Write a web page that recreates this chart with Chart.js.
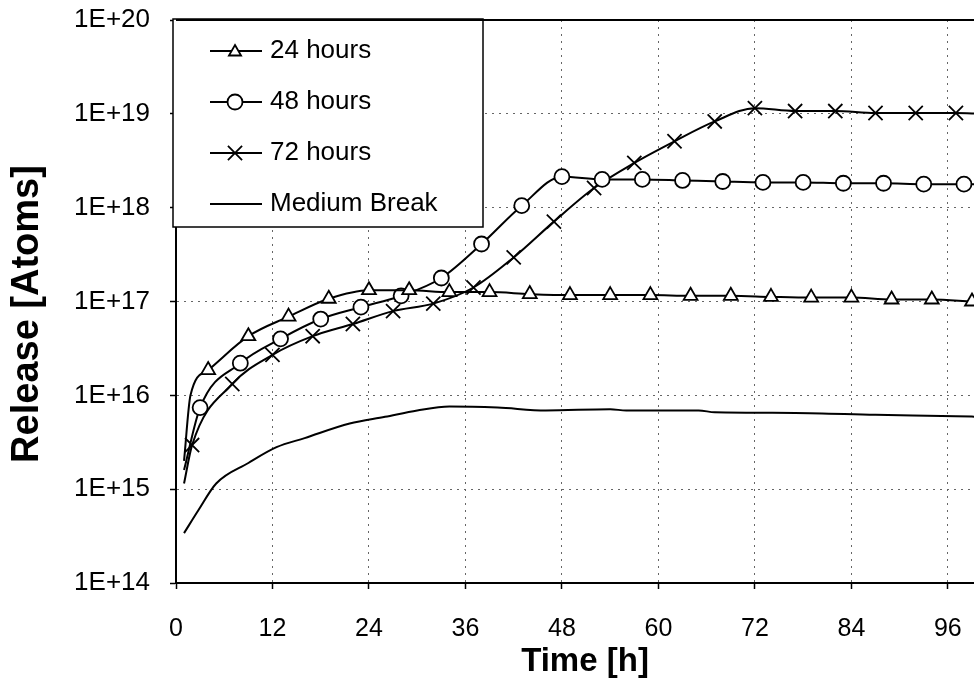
<!DOCTYPE html>
<html>
<head>
<meta charset="utf-8">
<script src="https://cdn.jsdelivr.net/npm/chart.js@4.4.1/dist/chart.umd.min.js"></script>
<style>
  html, body { margin: 0; padding: 0; background: #fff; }
  #wrap { width: 974px; height: 698px; }
</style>
</head>
<body>
<div id="wrap"><canvas id="releaseChart" width="974" height="698"></canvas></div>
<script>
// Release vs time (log y axis)

// x tick labels (hours) and y decades
const xTicks = [0, 12, 24, 36, 48, 60, 72, 84, 96];
const yDecades = [1e14, 1e15, 1e16, 1e17, 1e18, 1e19, 1e20];

// 24 hours (triangles)
const hours24 = [1, 1.8, 4, 9, 14, 19, 24, 29, 34, 39, 44, 49, 54, 59, 64, 69, 74, 79, 84, 89, 94, 99];
const release24 = [2.0e15, 1.0e16, 1.86e16, 4.27e16, 6.9e16, 1.07e17, 1.32e17, 1.32e17, 1.26e17, 1.26e17,
  1.2e17, 1.17e17, 1.17e17, 1.17e17, 1.15e17, 1.15e17, 1.12e17, 1.1e17, 1.1e17, 1.05e17, 1.05e17, 1.0e17];

// 48 hours (circles)
const hours48 = [1, 3, 8, 13, 18, 23, 28, 33, 38, 43, 48, 53, 58, 63, 68, 73, 78, 83, 88, 93, 98, 100];
const release48 = [1.6e15, 7.4e15, 2.2e16, 4.0e16, 6.5e16, 8.7e16, 1.15e17, 1.78e17, 4.1e17, 1.05e18,
  2.14e18, 2.0e18, 2.0e18, 1.95e18, 1.9e18, 1.86e18, 1.86e18, 1.82e18, 1.82e18, 1.78e18, 1.78e18, 1.78e18];

// 72 hours (crosses)
const hours72 = [1, 2, 7, 12, 17, 22, 27, 32, 37, 42, 47, 52, 57, 62, 67, 72, 77, 82, 87, 92, 97, 100];
const release72 = [1.15e15, 2.95e15, 1.32e16, 2.7e16, 4.27e16, 5.75e16, 7.9e16, 9.5e16, 1.41e17, 2.95e17,
  7.1e17, 1.62e18, 3.0e18, 5.1e18, 8.3e18, 1.15e19, 1.07e19, 1.07e19, 1.02e19, 1.02e19, 1.02e19, 1.0e19];

// Medium break (plain line)
const hoursMedium = [1, 2.8, 5, 9, 12.5, 16, 21.6, 26, 30, 34, 40, 46, 54, 56, 65, 67, 77, 87, 97, 100];
const releaseMedium = [3.4e14, 6.0e14, 1.15e15, 1.9e15, 2.8e15, 3.5e15, 5.0e15, 5.9e15, 6.9e15, 7.6e15,
  7.4e15, 6.9e15, 7.1e15, 6.9e15, 6.9e15, 6.6e15, 6.5e15, 6.2e15, 6.0e15, 5.9e15];

const FONT = '"Liberation Sans", Arial, sans-serif';

function toPoints(xs, ys) {
  return xs.map((x, i) => ({ x: x, y: ys[i] }));
}

const datasets = [
  {
    label: '24 hours',
    data: toPoints(hours24, release24),
    pointStyle: 'triangle',
    pointRadius: ctx => (ctx.dataIndex < 2 ? 0 : 8)
  },
  {
    label: '48 hours',
    data: toPoints(hours48, release48),
    pointStyle: 'circle',
    pointRadius: ctx => (ctx.dataIndex === 0 || ctx.dataIndex === hours48.length - 1 ? 0 : 7.5)
  },
  {
    label: '72 hours',
    data: toPoints(hours72, release72),
    pointStyle: 'crossRot',
    pointRadius: ctx => (ctx.dataIndex === 0 || ctx.dataIndex === hours72.length - 1 ? 0 : 10)
  },
  {
    label: 'Medium Break',
    data: toPoints(hoursMedium, releaseMedium),
    pointStyle: false,
    pointRadius: 0
  }
].map(ds => Object.assign({
  borderColor: '#000',
  borderWidth: 2,
  pointBorderColor: '#000',
  pointBackgroundColor: '#fff',
  pointBorderWidth: 1.8,
  cubicInterpolationMode: 'monotone',
  fill: false
}, ds));

// legend box drawn inside the plot, top left
const legendBox = {
  id: 'legendBox',
  afterDatasetsDraw(chart) {
    const c = chart.ctx;
    const area = chart.chartArea;
    const left = area.left - 3;
    const top = area.top - 1;
    c.save();
    c.fillStyle = '#fff';
    c.strokeStyle = '#000';
    c.lineWidth = 1.5;
    c.fillRect(left, top, 310, 208);
    c.strokeRect(left, top, 310, 208);
    chart.data.datasets.forEach((ds, i) => {
      const y = top + 32 + i * 51;
      c.strokeStyle = '#000';
      c.lineWidth = 1.8;
      c.beginPath();
      c.moveTo(left + 37, y);
      c.lineTo(left + 89, y);
      c.stroke();
      if (ds.pointStyle) {
        c.fillStyle = '#fff';
        const r = ds.pointStyle === 'crossRot' ? 10 : (ds.pointStyle === 'triangle' ? 7 : 7.5);
        Chart.helpers.drawPoint(c, { pointStyle: ds.pointStyle, radius: r, rotation: 0, borderWidth: 1.8 }, left + 62, y + (ds.pointStyle === 'triangle' ? 1 : 0));
      }
      c.fillStyle = '#000';
      c.font = '26px ' + FONT;
      c.textBaseline = 'middle';
      c.textAlign = 'left';
      c.fillText(ds.label, left + 97, y);
    });
    c.restore();
  }
};

// solid frame line on top, plus the two axis titles
const frameAndTitles = {
  id: 'frameAndTitles',
  afterDraw(chart) {
    const c = chart.ctx;
    const area = chart.chartArea;
    c.save();
    c.strokeStyle = '#000';
    c.lineWidth = 2;
    c.beginPath();
    c.moveTo(area.left, area.top);
    c.lineTo(area.right, area.top);
    c.stroke();

    c.fillStyle = '#000';
    c.textAlign = 'center';
    c.textBaseline = 'middle';
    c.font = 'bold 33px ' + FONT;
    c.fillText('Time [h]', 585, 662);

    c.translate(28, 314);
    c.rotate(-Math.PI / 2);
    c.font = 'bold 38px ' + FONT;
    c.fillText('Release [Atoms]', 0, 0);
    c.restore();
  }
};

function noEdgePadding(axis) {
  axis.paddingTop = 0;
  axis.paddingBottom = 0;
  axis.paddingLeft = 0;
  axis.paddingRight = 0;
}

const config = {
  type: 'line',
  data: { datasets: datasets },
  options: {
    responsive: false,
    animation: false,
    layout: { autoPadding: false, padding: { top: 20, right: 0, left: 0, bottom: 0 } },
    plugins: {
      legend: { display: false },
      tooltip: { enabled: false }
    },
    scales: {
      x: {
        type: 'linear',
        min: 0,
        max: 99.25,
        afterBuildTicks: axis => { axis.ticks = xTicks.map(v => ({ value: v })); },
        afterFit: axis => { axis.height = 115; noEdgePadding(axis); },
        grid: { color: '#666', lineWidth: 1, tickLength: 6, tickColor: '#000', tickWidth: 1.5, tickBorderDash: [] },
        border: { display: true, color: '#000', width: 2, dash: [2, 5] },
        ticks: {
          color: '#000',
          padding: 25,
          maxRotation: 0,
          font: { family: FONT, size: 25 }
        }
      },
      y: {
        type: 'logarithmic',
        min: 1e14,
        max: 1e20,
        afterBuildTicks: axis => { axis.ticks = yDecades.map(v => ({ value: v })); },
        afterFit: axis => { axis.width = 176; noEdgePadding(axis); },
        grid: { color: '#666', lineWidth: 1, tickLength: 6, tickColor: '#000', tickWidth: 1.5, tickBorderDash: [] },
        border: { display: true, color: '#000', width: 2, dash: [2, 5] },
        ticks: {
          color: '#000',
          padding: 20,
          font: { family: FONT, size: 26 },
          callback: v => '1E+' + Math.round(Math.log10(v))
        }
      }
    }
  },
  plugins: [legendBox, frameAndTitles]
};

const ctx = document.getElementById('releaseChart').getContext('2d');
const releaseChart = new Chart(ctx, config);
</script>
</body>
</html>
